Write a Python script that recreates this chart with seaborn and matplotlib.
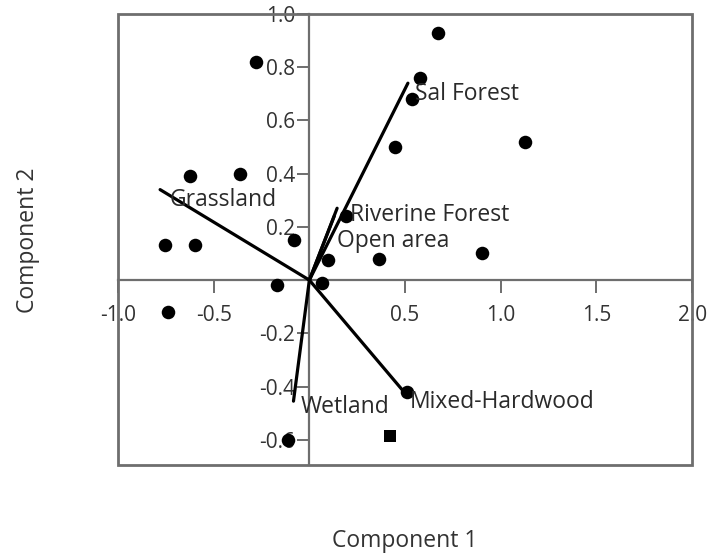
import matplotlib
matplotlib.use("Agg")
import matplotlib.pyplot as plt
import seaborn as sns
import pandas as pd
from matplotlib.patches import Rectangle

# PCA scores (sites)
pc1 = [0.67, -0.28, 0.58, 0.535, 1.125, 0.45, -0.625, -0.36, -0.755, -0.60,
       -0.08, 0.19, 0.10, 0.365, 0.90, -0.17, 0.067, -0.74, -0.11, 0.51]
pc2 = [0.93, 0.82, 0.76, 0.68, 0.52, 0.50, 0.39, 0.40, 0.13, 0.13,
       0.15, 0.24, 0.075, 0.08, 0.10, -0.02, -0.01, -0.12, -0.60, -0.42]
sq_pc1 = [0.42]
sq_pc2 = [-0.585]

# loadings (habitat vectors)
habitats = ["Sal Forest", "Grassland", "Riverine Forest", "Open area", "Wetland", "Mixed-Hardwood"]
load1 = [0.515, -0.78, 0.145, 0.13, -0.083, 0.50]
load2 = [0.74, 0.34, 0.27, 0.24, -0.455, -0.425]
lab_x = [0.55, -0.73, 0.21, 0.145, -0.047, 0.526]
lab_y = [0.70, 0.30, 0.245, 0.147, -0.477, -0.46]

xticks = [-1.0, -0.5, 0.5, 1.0, 1.5, 2.0]
yticks = [-0.6, -0.4, -0.2, 0.2, 0.4, 0.6, 0.8, 1.0]

sns.set_style("white")
plt.rcParams['font.family'] = ['Open Sans', 'DejaVu Sans']

grey = "#6e6e6e"
fig = plt.figure(figsize=(7.07, 5.53), dpi=100)
ax = fig.add_axes([0.1669, 0.1591, 0.812, 0.8156])

df = pd.DataFrame({"pc1": pc1, "pc2": pc2})
sns.scatterplot(data=df, x="pc1", y="pc2", ax=ax, color="black", s=95,
                edgecolor="black", linewidth=0, zorder=4)
sns.scatterplot(x=sq_pc1, y=sq_pc2, ax=ax, color="black", marker="s", s=75,
                edgecolor="black", linewidth=0, zorder=4)

for h, a, b, tx, ty in zip(habitats, load1, load2, lab_x, lab_y):
    ax.plot([0, a], [0, b], color="black", lw=2.3, zorder=3)
    ax.text(tx, ty, h, fontsize=16.5, color="#2a2a2a", va="center", ha="left", zorder=5)

ax.set_xlim(-1.0, 2.0)
ax.set_ylim(-0.695, 1.0)

for s in ["top", "right"]:
    ax.spines[s].set_visible(False)
for s in ["left", "bottom"]:
    ax.spines[s].set_position(("data", 0))
    ax.spines[s].set_color(grey)
    ax.spines[s].set_linewidth(1.6)
ax.add_patch(Rectangle((0, 0), 1, 1, transform=ax.transAxes, fill=False,
                       ec=grey, lw=2.0, clip_on=False, zorder=2))

ax.set_xticks(xticks)
ax.set_xticklabels([f"{t:.1f}" for t in xticks])
ax.set_yticks(yticks)
ax.set_yticklabels([f"{t:.1f}" for t in yticks])
ax.tick_params(axis="x", direction="out", length=9, width=1.4, color=grey,
               labelsize=15, labelcolor="#333333", pad=9, bottom=True)
ax.tick_params(axis="y", direction="out", length=9, width=1.4, color=grey,
               labelsize=15, labelcolor="#333333", pad=1, left=True)

ax.set_xlabel("")
ax.set_ylabel("")
fig.text(0.5725, 1 - 541 / 553, "Component 1", ha="center", va="center",
         fontsize=16.5, color="#333333")
fig.text(28 / 707, 1 - 240 / 553, "Component 2", ha="center", va="center",
         rotation=90, fontsize=16.5, color="#333333")

fig.savefig("out.png", dpi=100)
